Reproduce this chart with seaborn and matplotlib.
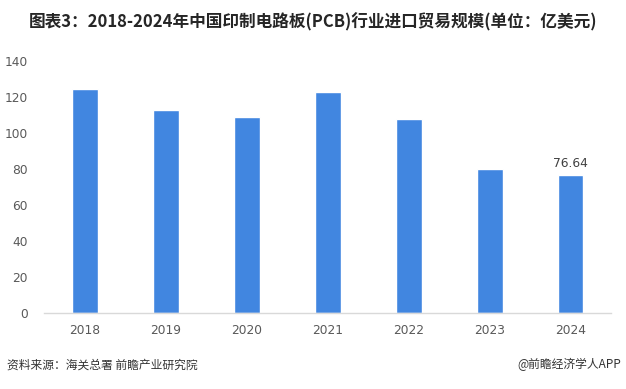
import matplotlib
matplotlib.use("Agg")
import matplotlib.pyplot as plt
import seaborn as sns
import pandas as pd

years = ["2018", "2019", "2020", "2021", "2022", "2023", "2024"]
imports = [124.3, 112.6, 108.7, 123.0, 107.6, 79.9, 76.64]
label_year = "2024"
label_text = "76.64"

title = "图表3：2018-2024年中国印制电路板(PCB)行业进口贸易规模(单位：亿美元)"
source = "资料来源：海关总署 前瞻产业研究院"
brand = "@前瞻经济学人APP"

df = pd.DataFrame({"year": years, "value": imports})

sns.set_style("white")
plt.rcParams["font.family"] = ["Noto Sans CJK SC", "DejaVu Sans"]

fig = plt.figure(figsize=(6.26, 3.89), dpi=100)
ax = fig.add_axes([0.071, 0.195, 0.905, 0.648])

sns.barplot(data=df, x="year", y="value", color="#4186E0", saturation=1,
            width=0.32, ax=ax)

ax.set_ylim(0, 140)
ax.set_xlim(-0.5, 6.5)
ax.set_yticks(range(0, 141, 20))
ax.set_xlabel("")
ax.set_ylabel("")
for s in ["top", "right", "left"]:
    ax.spines[s].set_visible(False)
ax.spines["bottom"].set_color("#d9d9d9")
ax.spines["bottom"].set_linewidth(1)
ax.tick_params(axis="both", length=0, labelsize=8.8, labelcolor="#595959")
ax.tick_params(axis="x", pad=8)
ax.tick_params(axis="y", pad=12)
for t in ax.get_yticklabels() + ax.get_xticklabels():
    t.set_family("DejaVu Sans")

i = years.index(label_year)
ax.annotate(label_text, (i, imports[i]), xytext=(0, 4), textcoords="offset points",
            ha="center", va="bottom", fontsize=8.8, color="#404040",
            family="DejaVu Sans")

fig.text(0.5, 0.943, title, ha="center", va="center", fontsize=12,
         fontweight="bold", color="#262626")
fig.text(0.011, 0.062, source, ha="left", va="center", fontsize=8.5, color="#333333")
fig.text(0.992, 0.062, brand, ha="right", va="center", fontsize=8.5, color="#333333")

fig.savefig("out.png", dpi=100, facecolor="white")
